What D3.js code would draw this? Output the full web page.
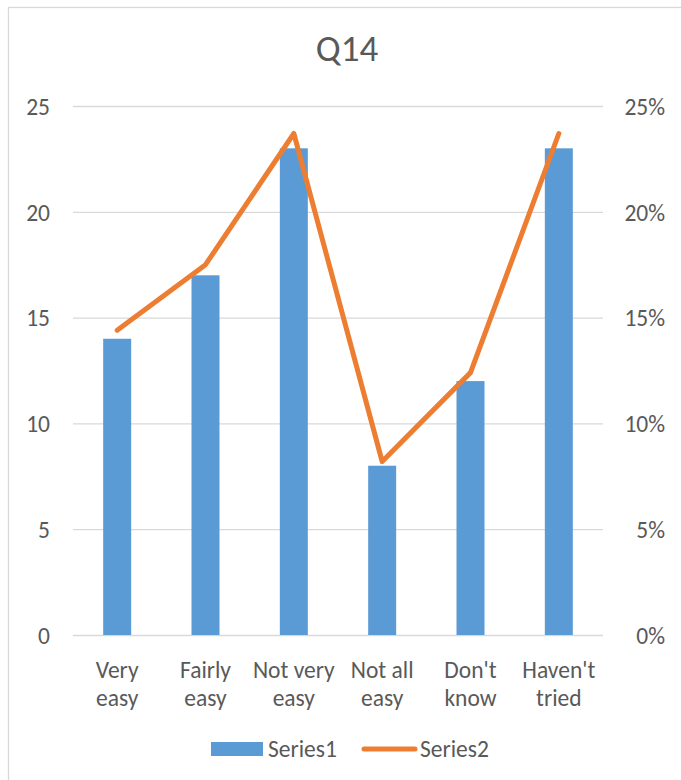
<!DOCTYPE html>
<html><head><meta charset="utf-8">
<script src="https://cdn.jsdelivr.net/npm/d3@7/dist/d3.min.js"></script>
<style>body{margin:0;background:#fff}svg{display:block}</style>
</head><body>
<svg id="c" width="681" height="780"></svg>
<script>
const categories = [["Very","easy"],["Fairly","easy"],["Not very","easy"],["Not all","easy"],["Don't","know"],["Haven't","tried"]];
const series1 = [14, 17, 23, 8, 12, 23];
const series2 = [0.144, 0.175, 0.237, 0.082, 0.124, 0.237];
const leftTicks = [0, 5, 10, 15, 20, 25];
const rightTicks = [0, 0.05, 0.10, 0.15, 0.20, 0.25];

const svg = d3.select("#c");
const font = "Carlito, Calibri, 'Open Sans', sans-serif";
const txt = "#595959";
const fs = "23.5px";
const m = {l:73, r:603, t:106, b:635};

svg.append("rect").attr("x",8.5).attr("y",7.5).attr("width",690).attr("height",790)
  .attr("fill","#fff").attr("stroke","#d9d9d9").attr("stroke-width",1.3);

const xc = i => m.l + (m.r - m.l) / categories.length * (i + 0.5);
const yL = d3.scaleLinear().domain([0,25]).range([m.b, m.t]);
const yR = d3.scaleLinear().domain([0,0.25]).range([m.b, m.t]);

// gridlines
svg.append("g").selectAll("line").data(leftTicks).join("line")
  .attr("x1", m.l).attr("x2", m.r)
  .attr("y1", d => yL(d)+0.5).attr("y2", d => yL(d)+0.5)
  .attr("stroke", "#d9d9d9").attr("stroke-width", 1.3);

// axes
const axL = svg.append("g").attr("transform", `translate(50,0)`)
  .call(d3.axisLeft(yL).tickValues(leftTicks).tickSize(0).tickPadding(0));
const axR = svg.append("g").attr("transform", `translate(665,0)`)
  .call(d3.axisLeft(yR).tickValues(rightTicks).tickSize(0).tickPadding(0).tickFormat(d3.format(".0%")));
[axL, axR].forEach(a => {
  a.select(".domain").remove();
  a.selectAll("text").attr("fill", txt).style("font-family", font).style("font-size", fs).attr("dy","0.35em");
});

// bars
const bw = 28;
svg.append("g").selectAll("rect").data(series1).join("rect")
  .attr("x", (d,i) => xc(i) - bw/2).attr("width", bw)
  .attr("y", d => yL(d)).attr("height", d => yL(0) - yL(d))
  .attr("fill", "#5b9bd5");

// line
const line = d3.line().x((d,i) => xc(i)).y(d => yR(d));
svg.append("path").datum(series2).attr("d", line)
  .attr("fill","none").attr("stroke","#ed7d31").attr("stroke-width",5)
  .attr("stroke-linejoin","round").attr("stroke-linecap","round");

// category labels
const cl = svg.append("g").selectAll("text").data(categories).join("text")
  .attr("x", (d,i) => xc(i)).attr("y", 678)
  .attr("text-anchor","middle").attr("fill", txt)
  .style("font-family", font).style("font-size",fs);
cl.append("tspan").attr("x",(d,i)=>xc(i)).text(d=>d[0]);
cl.append("tspan").attr("x",(d,i)=>xc(i)).attr("dy",28).text(d=>d[1]);

// title
svg.append("text").attr("x", 347).attr("y", 61).attr("text-anchor","middle")
  .attr("fill", txt).style("font-family", font).style("font-size","37px").text("Q14");

// legend
const lg = svg.append("g");
lg.append("rect").attr("x",211).attr("y",742).attr("width",52).attr("height",14).attr("fill","#5b9bd5");
lg.append("text").attr("x",268).attr("y",757).attr("fill",txt).style("font-family",font).style("font-size",fs).text("Series1");
lg.append("line").attr("x1",364).attr("x2",415).attr("y1",749).attr("y2",749)
  .attr("stroke","#ed7d31").attr("stroke-width",5).attr("stroke-linecap","round");
lg.append("text").attr("x",420).attr("y",757).attr("fill",txt).style("font-family",font).style("font-size",fs).text("Series2");
</script>
</body></html>
